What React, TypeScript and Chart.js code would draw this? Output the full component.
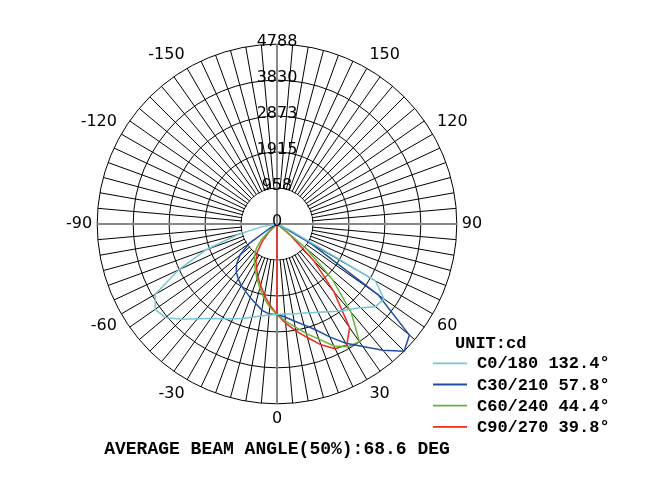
import { useEffect, useRef } from 'react';
import { Chart, registerables } from 'chart.js';

Chart.register(...registerables);

// Spoke angles (degrees), clockwise from the top of the diagram
const ANGLES = [
  180, 175, 170, 165, 160, 155, 150, 145, 140, 135, 130, 125,
  120, 115, 110, 105, 100, 95, 90, 85, 80, 75, 70, 65,
  60, 55, 50, 45, 40, 35, 30, 25, 20, 15, 10, 5,
  0, -5, -10, -15, -20, -25, -30, -35, -40, -45, -50, -55,
  -60, -65, -70, -75, -80, -85, -90, -95, -100, -105, -110, -115,
  -120, -125, -130, -135, -140, -145, -150, -155, -160, -165, -170, -175,
];

// Angles at which the curves carry light
const GAMMA = [
  -90, -85, -80, -75, -70, -65, -60, -55, -50, -45, -40, -35, -30,
  -25, -20, -15, -10, -5, 0, 5, 10, 15, 20, 25, 30, 35, 40, 45,
  50, 55, 60, 65, 70, 75, 80, 85, 90,
];

// Angle labels shown round the diagram
const ANGLE_LABELS = [-150, -120, -90, -60, -30, 0, 30, 60, 90, 120, 150];

// Radial tick values (cd)
const TICKS = [0, 958, 1915, 2873, 3830, 4788];

// Candela values at GAMMA
const C0_180 = [
  0, 0, 400, 1070, 2006, 2889, 3745, 3959, 3879, 3585, 3290, 3076, 2916,
  2782, 2675, 2568, 2488, 2434, 2408, 2408, 2434, 2461, 2515, 2595, 2702, 2836, 2969, 3157,
  3424, 3478, 3023, 400, 0, 0, 0, 0, 0,
];
const C30_210 = [
  0, 0, 0, 0, 0, 0, 214, 910, 1284, 1525, 1685, 1792, 1899,
  1980, 2087, 2194, 2327, 2408, 2408, 2488, 2622, 2782, 2996, 3317, 3665, 3986, 4387, 4788,
  4601, 3290, 1070, 134, 0, 0, 0, 0, 0,
];
const C60_240 = [
  0, 0, 0, 0, 0, 0, 0, 0, 214, 589, 856, 1043, 1204,
  1364, 1552, 1766, 2006, 2220, 2408, 2595, 2782, 3023, 3264, 3585, 3772, 3825, 3076, 2087,
  1016, 134, 0, 0, 0, 0, 0, 0, 0,
];
const C90_270 = [
  0, 0, 0, 0, 0, 0, 0, 0, 0, 321, 615, 910, 1124,
  1284, 1498, 1685, 1926, 2167, 2408, 2648, 2889, 3130, 3424, 3665, 3718, 3371, 2354, 1391,
  482, 0, 0, 0, 0, 0, 0, 0, 0,
];

const SERIES_NAMES = ['C0/180', 'C30/210', 'C60/240', 'C90/270'];
const BEAM_ANGLES = ['132.4°', '57.8°', '44.4°', '39.8°'];
const SERIES_VALUES = [C0_180, C30_210, C60_240, C90_270];
const SERIES_COLORS = ['#74c6d8', '#1f4ea6', '#69b23a', '#f0281e'];

const UNIT_TEXT = 'UNIT:cd';
const TITLE_TEXT = 'AVERAGE BEAM ANGLE(50%):68.6 DEG';

const SANS = '"DejaVu Sans", Verdana, sans-serif';
const MONO = '"Liberation Mono", "Courier New", monospace';

function fullSeries(values: number[]): number[] {
  return ANGLES.map((a) => {
    const i = GAMMA.indexOf(a);
    return i >= 0 ? values[i] : 0;
  });
}

const polarDecor = {
  id: 'polarDecor',
  beforeDatasetsDraw(chart: any) {
    const s = chart.scales.r;
    const ctx = chart.ctx;
    const cx = s.xCenter;
    const cy = s.yCenter;
    const r1 = s.getDistanceFromCenterForValue(TICKS[1]);
    ctx.save();
    ctx.beginPath();
    ctx.arc(cx, cy, r1 - 0.6, 0, Math.PI * 2);
    ctx.fillStyle = '#ffffff';
    ctx.fill();
    ctx.strokeStyle = '#888888';
    ctx.lineWidth = 2;
    [0, 18, 36, 54].forEach((i) => {
      const p = s.getPointPosition(i, r1);
      ctx.beginPath();
      ctx.moveTo(cx, cy);
      ctx.lineTo(p.x, p.y);
      ctx.stroke();
    });
    // radial stroke from the centre to the nadir value of C90/270
    const nadirIdx = ANGLES.indexOf(0);
    const nadir = s.getPointPositionForValue(nadirIdx, C90_270[GAMMA.indexOf(0)]);
    ctx.strokeStyle = SERIES_COLORS[3];
    ctx.lineWidth = 1.5;
    ctx.beginPath();
    ctx.moveTo(cx, cy);
    ctx.lineTo(nadir.x, nadir.y);
    ctx.stroke();
    ctx.restore();
  },
  afterDatasetsDraw(chart: any) {
    const s = chart.scales.r;
    const ctx = chart.ctx;
    const cx = s.xCenter;
    const cy = s.yCenter;
    ctx.save();
    // radial tick labels
    ctx.fillStyle = '#000';
    ctx.font = `16px ${SANS}`;
    ctx.textAlign = 'center';
    ctx.textBaseline = 'alphabetic';
    s.ticks.forEach((t: any) => {
      const d = s.getDistanceFromCenterForValue(t.value);
      ctx.fillText(String(t.value), cx, cy - d + 1.5);
    });
    // legend
    ctx.font = `bold 17px ${MONO}`;
    ctx.textAlign = 'left';
    ctx.fillText(UNIT_TEXT, 455, 347.5);
    SERIES_NAMES.forEach((name, k) => {
      const base = 368.3 + k * 21.2;
      ctx.strokeStyle = SERIES_COLORS[k];
      ctx.lineWidth = 1.8;
      ctx.beginPath();
      ctx.moveTo(433, base - 5);
      ctx.lineTo(467, base - 5);
      ctx.stroke();
      ctx.fillStyle = '#000';
      ctx.fillText(`${name} ${BEAM_ANGLES[k]}`, 477, base);
    });
    // bottom caption
    ctx.font = `bold 18px ${MONO}`;
    ctx.textAlign = 'center';
    ctx.fillText(TITLE_TEXT, cx, 454);
    ctx.restore();
  },
};

export default function App() {
  const ref = useRef<HTMLCanvasElement | null>(null);

  useEffect(() => {
    document.body.style.margin = '0';
    const canvas = ref.current;
    if (!canvas) return;
    const chart = new Chart(canvas, {
      type: 'radar',
      data: {
        labels: ANGLES,
        datasets: SERIES_NAMES.map((name, k) => ({
          label: name,
          data: fullSeries(SERIES_VALUES[k]),
          borderColor: SERIES_COLORS[k],
          backgroundColor: 'rgba(0,0,0,0)',
          borderWidth: 1.5,
          pointRadius: 0,
          pointHoverRadius: 0,
          fill: false,
          tension: 0,
        })),
      },
      options: {
        responsive: false,
        animation: false,
        devicePixelRatio: 1,
        layout: { padding: { left: 38, right: 148, top: 20, bottom: 64 } },
        plugins: {
          legend: { display: false },
          tooltip: { enabled: false },
          title: { display: false },
        },
        scales: {
          r: {
            min: 0,
            max: TICKS[TICKS.length - 1],
            startAngle: 0,
            afterBuildTicks: (scale: any) => {
              scale.ticks = TICKS.map((v) => ({ value: v }));
            },
            ticks: { display: false },
            grid: { circular: true, color: '#000', lineWidth: 1 },
            angleLines: {
              color: (c: any) => (c.index % 18 === 0 ? '#888888' : '#000000'),
              lineWidth: (c: any) => (c.index % 18 === 0 ? 2 : 1),
            },
            pointLabels: {
              display: true,
              color: '#000',
              padding: 5,
              font: { family: SANS, size: 16 },
              callback: (label: any) =>
                ANGLE_LABELS.includes(Number(label)) ? String(label) : '',
            },
          },
        },
      } as any,
      plugins: [polarDecor],
    });
    return () => chart.destroy();
  }, []);

  return (
    <div style={{ width: 664, height: 492, position: 'relative' }}>
      <canvas ref={ref} width={664} height={492} />
    </div>
  );
}
